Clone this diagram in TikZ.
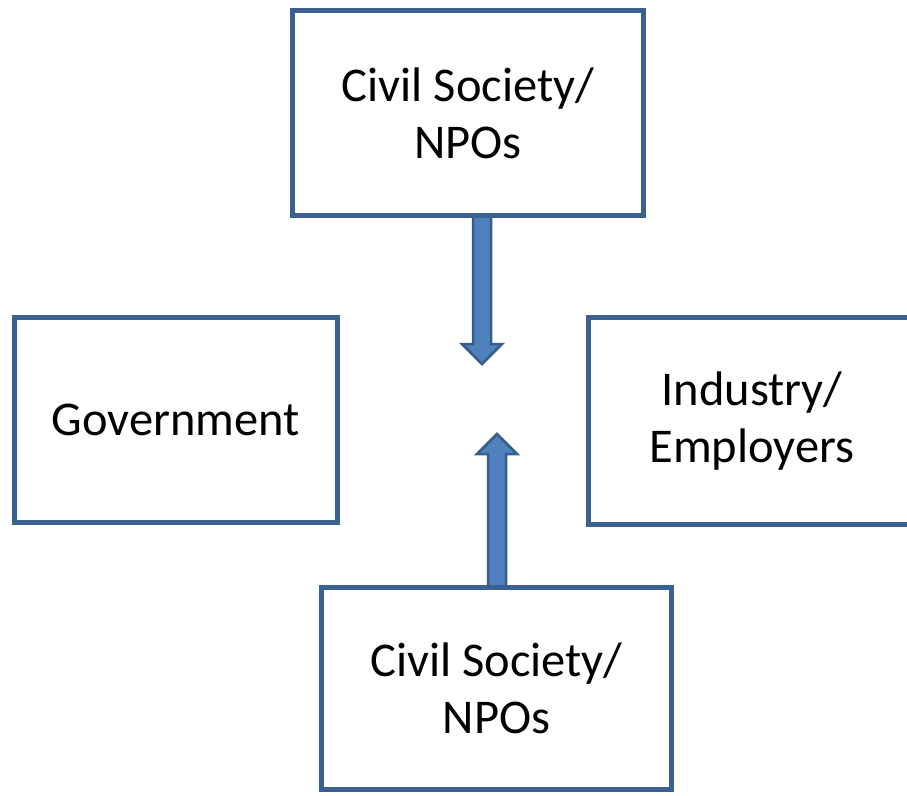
\documentclass[tikz,border=0pt]{standalone}
\usepackage{fontspec}
\setmainfont{Carlito}
\usetikzlibrary{calc}
\definecolor{boxline}{HTML}{3B6092}
\definecolor{arrfill}{HTML}{4F81BD}
\definecolor{arrline}{HTML}{385D8A}
\tikzset{
  stakebox/.style={draw=boxline, line width=5pt, fill=white, rectangle, align=center,
    font=\fontsize{48.5pt}{57pt}\selectfont, text=black, inner sep=0pt},
  blockarrow/.style={fill=arrfill, draw=arrline, line width=2.5pt, line join=miter}
}
\begin{document}
\begin{tikzpicture}[x=1pt,y=-1pt]
\useasboundingbox (0,0) rectangle (907,795);
% arrows first (boxes cover their shaft ends)
\coordinate (ta) at (482,215);
\coordinate (tb) at (482,364);
\coordinate (ba) at (497,587);
\coordinate (bb) at (497,434);
\draw[blockarrow] ($(ta)+(-9,0)$) -- ($(tb)+(-9,-20)$) -- ($(tb)+(-20,-20)$) -- (tb)
  -- ($(tb)+(20,-20)$) -- ($(tb)+(9,-20)$) -- ($(ta)+(9,0)$) -- cycle;
\draw[blockarrow] ($(ba)+(-9,0)$) -- ($(bb)+(-9,20)$) -- ($(bb)+(-20,20)$) -- (bb)
  -- ($(bb)+(20,20)$) -- ($(bb)+(9,20)$) -- ($(ba)+(9,0)$) -- cycle;
% boxes
\node[stakebox, minimum width=351pt, minimum height=205pt] (top) at (468,113) {Civil Society/\\NPOs};
\node[stakebox, minimum width=323pt, minimum height=205pt] (gov) at (176,420) {Government};
\node[stakebox, minimum width=327pt, minimum height=207pt] (ind) at (752,421) {Industry/\\Employers};
\node[stakebox, minimum width=350pt, minimum height=202pt] (bot) at (496.5,688.5) {Civil Society/\\NPOs};
\end{tikzpicture}
\end{document}
